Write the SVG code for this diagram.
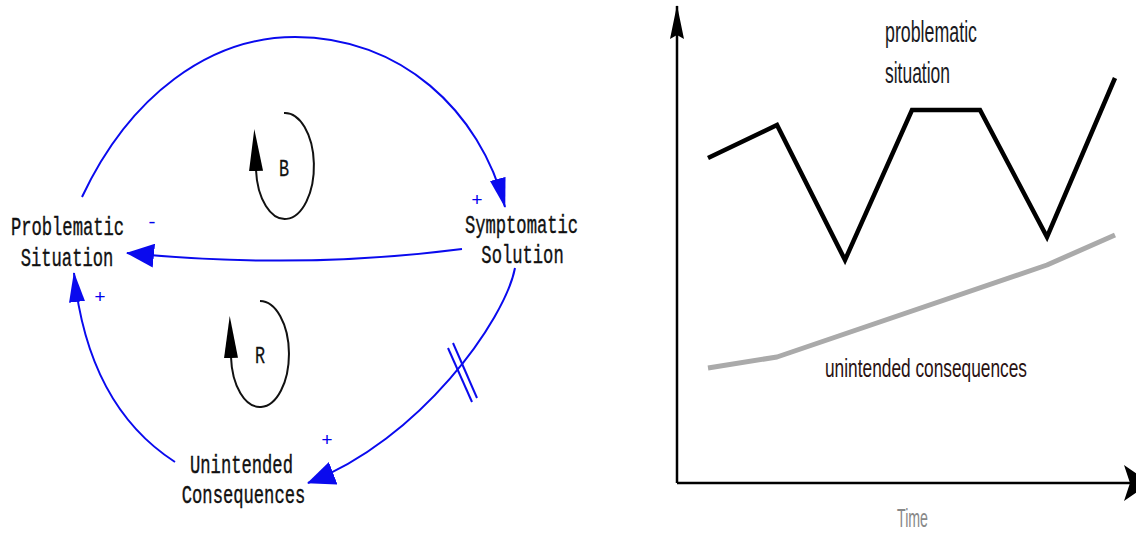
<svg xmlns="http://www.w3.org/2000/svg" width="1136" height="533" viewBox="0 0 1136 533">
<style>
.lbl{font-family:"Liberation Mono","DejaVu Sans Mono",monospace;font-size:26px;fill:#111;stroke:#111;stroke-width:0.4;text-anchor:middle}
.sign{font-family:"Liberation Mono","DejaVu Sans Mono",monospace;font-size:19px;fill:#0000ee;text-anchor:middle}
.loopL{font-family:"Liberation Mono","DejaVu Sans Mono",monospace;font-size:24px;fill:#111;stroke:#111;stroke-width:0.3;text-anchor:middle}
.link{fill:none;stroke:#0a0aee;stroke-width:2}
.loop{fill:none;stroke:#111;stroke-width:2}
.chart{font-family:"Liberation Sans",Arial,sans-serif}
</style>
<defs>
<marker id="ah" markerUnits="userSpaceOnUse" markerWidth="28" markerHeight="24" viewBox="0 0 28 24" refX="27" refY="12" orient="auto">
<path d="M0,0 L28,12 L0,24 Z" fill="#0a0aee"/>
</marker>
<marker id="ahn" markerUnits="userSpaceOnUse" markerWidth="30" markerHeight="16" viewBox="0 0 30 16" refX="29" refY="8" orient="auto">
<path d="M0,0 L30,8 L0,16 Z" fill="#0a0aee"/>
</marker>
<marker id="la" markerUnits="userSpaceOnUse" markerWidth="42" markerHeight="14" viewBox="0 0 42 14" refX="1" refY="7" orient="auto">
<path d="M0,0 L42,7 L0,14 Z" fill="#000"/>
</marker>
<marker id="ay" markerUnits="userSpaceOnUse" markerWidth="34" markerHeight="14" viewBox="0 0 34 14" refX="33" refY="7" orient="auto">
<path d="M0,0 L34,7 L0,14 L4,7 Z" fill="#000"/>
</marker>
<marker id="axh" markerUnits="userSpaceOnUse" markerWidth="26" markerHeight="36" viewBox="0 0 26 36" refX="6" refY="18" orient="auto">
<path d="M0,0 L26,18 L0,36 L6,18 Z" fill="#000"/>
</marker>
</defs>
<rect width="1136" height="533" fill="#fff"/>

<g id="connectors">
<path class="link" d="M82 197 C130 95,210 37,295 37 C400 37,480 110,505 207" marker-end="url(#ahn)"/>
<path class="link" d="M462 249 Q300 270 127 253" marker-end="url(#ah)"/>
<path class="link" d="M515 268 C505 320,420 440,308 483" marker-end="url(#ah)"/>
<path class="link" d="M175 462 C110 420,82 350,74 273" marker-end="url(#ahn)"/>
<line class="link" x1="448" y1="348" x2="472" y2="402"/>
<line class="link" x1="453" y1="343" x2="477" y2="398"/>
<text class="sign" x="152" y="228">-</text>
<text class="sign" x="477" y="206">+</text>
<text class="sign" x="100" y="303">+</text>
<text class="sign" x="327" y="446">+</text>
</g>

<g id="node-problematic">
<text class="lbl" transform="translate(67.5 235) scale(0.66 1)">Problematic</text>
<text class="lbl" transform="translate(67 266) scale(0.66 1)">Situation</text>
</g>
<g id="node-symptomatic">
<text class="lbl" transform="translate(521.5 233) scale(0.66 1)">Symptomatic</text>
<text class="lbl" transform="translate(522.5 263) scale(0.66 1)">Solution</text>
</g>
<g id="node-unintended">
<text class="lbl" transform="translate(241.5 473) scale(0.66 1)">Unintended</text>
<text class="lbl" transform="translate(243.5 503) scale(0.66 1)">Consequences</text>
</g>

<g id="loop-B">
<path class="loop" d="M284 113 A29 53 0 1 1 256 170" marker-end="url(#la)"/>
<text class="loopL" transform="translate(284 176) scale(0.7 1)">B</text>
</g>
<g id="loop-R">
<path class="loop" d="M260 301 A29 53 0 1 1 231 357" marker-end="url(#la)"/>
<text class="loopL" transform="translate(260 363) scale(0.7 1)">R</text>
</g>

<g id="chart">
<line x1="677" y1="483" x2="677" y2="6" stroke="#000" stroke-width="2.5" marker-end="url(#ay)"/>
<line x1="677" y1="483" x2="1130" y2="483" stroke="#000" stroke-width="2.5" marker-end="url(#axh)"/>
<polyline points="708,368 777,357 1047,265 1115,235" fill="none" stroke="#aaa" stroke-width="5" stroke-linejoin="round"/>
<polyline points="708,158 777,125 845,260 912,110 980,110 1047,237 1115,78" fill="none" stroke="#000" stroke-width="4.5" stroke-linejoin="miter"/>
<text class="chart" x="885" y="42" font-size="30" fill="#1a1a22" textLength="92" lengthAdjust="spacingAndGlyphs">problematic</text>
<text class="chart" x="885" y="83" font-size="30" fill="#1a1a22" textLength="65" lengthAdjust="spacingAndGlyphs">situation</text>
<text class="chart" x="825" y="377" font-size="25" fill="#2a1212" textLength="202" lengthAdjust="spacingAndGlyphs">unintended consequences</text>
<text class="chart" x="897" y="527" font-size="25" fill="#888" textLength="31" lengthAdjust="spacingAndGlyphs">Time</text>
</g>
</svg>
